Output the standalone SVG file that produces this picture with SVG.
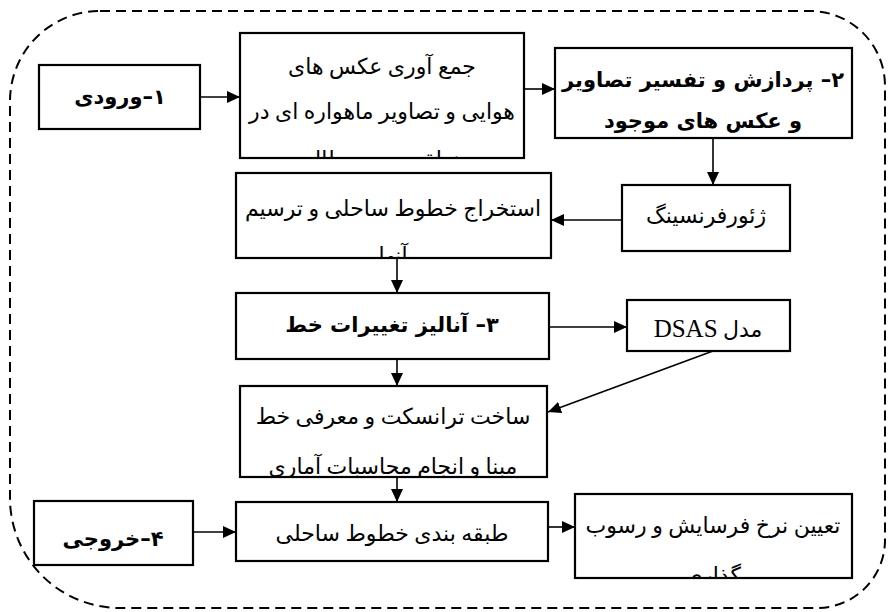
<svg xmlns="http://www.w3.org/2000/svg" width="890" height="612" viewBox="0 0 890 612">
<style>
.box{fill:#fff;stroke:#000;stroke-width:2.2}
.t{font-family:"Liberation Serif","DejaVu Sans",serif;font-size:22px;fill:#000;text-anchor:middle}
.b{font-family:"DejaVu Sans","Liberation Sans",sans-serif;font-size:21px;font-weight:bold;fill:#000;text-anchor:middle}
.c{fill:none;stroke:#000;stroke-width:1.6}
.frame{fill:none;stroke:#000;stroke-width:2;stroke-dasharray:10 6}
</style>
<defs>
<marker id="ah" markerUnits="userSpaceOnUse" markerWidth="13" markerHeight="12" refX="13" refY="6" orient="auto">
<path d="M0,0 L13,6 L0,12 Z" fill="#000"/>
</marker>
<clipPath id="c1"><rect x="241" y="34" width="282" height="123"/></clipPath>
<clipPath id="c4"><rect x="237" y="174" width="313" height="83"/></clipPath>
<clipPath id="c6"><rect x="241" y="387" width="305" height="89"/></clipPath>
<clipPath id="c9"><rect x="576" y="495" width="275" height="82"/></clipPath>
</defs>
<path class="frame" d="M100,11 H810 A75,75 0 0 1 885,86 V540 A68,68 0 0 1 817,608 H120 A110,110 0 0 1 10,498 V101 A90,90 0 0 1 100,11 Z"/>
<g id="connectors">
<line class="c" x1="200" y1="97" x2="240" y2="97" marker-end="url(#ah)"/>
<line class="c" x1="524" y1="89" x2="555" y2="89" marker-end="url(#ah)"/>
<line class="c" x1="713" y1="138" x2="713" y2="185" marker-end="url(#ah)"/>
<line class="c" x1="622" y1="220" x2="551" y2="220" marker-end="url(#ah)"/>
<line class="c" x1="397" y1="258" x2="397" y2="293" marker-end="url(#ah)"/>
<line class="c" x1="549" y1="327" x2="627" y2="327" marker-end="url(#ah)"/>
<line class="c" x1="397" y1="359" x2="397" y2="386" marker-end="url(#ah)"/>
<line class="c" x1="713" y1="351" x2="548" y2="412" marker-end="url(#ah)"/>
<line class="c" x1="397" y1="477" x2="397" y2="502" marker-end="url(#ah)"/>
<line class="c" x1="193" y1="532" x2="236" y2="532" marker-end="url(#ah)"/>
<line class="c" x1="548" y1="527" x2="575" y2="527" marker-end="url(#ah)"/>
</g>
<g id="input">
<rect class="box" x="39" y="65" width="161" height="64"/>
<text class="b" x="120" y="104" direction="rtl">۱–ورودی</text>
</g>
<g id="collect">
<rect class="box" x="240" y="33" width="284" height="125"/>
<g clip-path="url(#c1)">
<text class="t" x="382" y="74" direction="rtl">جمع آوری عکس های</text>
<text class="t" x="382" y="119" direction="rtl">هوایی و تصاویر ماهواره ای در</text>
<text class="t" x="382" y="167" direction="rtl">منطقه مورد مطالعه</text>
</g>
</g>
<g id="process">
<rect class="box" x="555" y="48" width="297" height="90"/>
<text class="b" x="703" y="87" direction="rtl">۲– پردازش و تفسیر تصاویر</text>
<text class="b" x="703" y="128" direction="rtl">و عکس های موجود</text>
</g>
<g id="georef">
<rect class="box" x="622" y="185" width="168" height="66"/>
<text class="t" x="706" y="223" direction="rtl">ژئورفرنسینگ</text>
</g>
<g id="extract">
<rect class="box" x="236" y="173" width="315" height="85"/>
<g clip-path="url(#c4)">
<text class="t" x="393" y="216" direction="rtl">استخراج خطوط ساحلی و ترسیم</text>
<text class="t" x="393" y="263" direction="rtl">آنها</text>
</g>
</g>
<g id="analysis">
<rect class="box" x="236" y="293" width="313" height="66"/>
<text class="b" x="392" y="332" direction="rtl">۳– آنالیز تغییرات خط</text>
</g>
<g id="dsas">
<rect class="box" x="627" y="300" width="163" height="51"/>
<text class="t" x="708" y="337" direction="rtl"><tspan>مدل</tspan> <tspan font-size="25">DSAS</tspan></text>
</g>
<g id="transect">
<rect class="box" x="240" y="386" width="307" height="91"/>
<g clip-path="url(#c6)">
<text class="t" x="393" y="424" direction="rtl">ساخت ترانسکت و معرفی خط</text>
<text class="t" x="393" y="474" direction="rtl">مبنا و انجام محاسبات آماری</text>
</g>
</g>
<g id="output">
<rect class="box" x="34" y="501" width="159" height="64"/>
<text class="b" x="113" y="546" direction="rtl">۴–خروجی</text>
</g>
<g id="classify">
<rect class="box" x="236" y="502" width="312" height="59"/>
<text class="t" x="392" y="541" direction="rtl">طبقه بندی خطوط ساحلی</text>
</g>
<g id="rate">
<rect class="box" x="575" y="494" width="277" height="84"/>
<g clip-path="url(#c9)">
<text class="t" x="713" y="533" direction="rtl">تعیین نرخ فرسایش و رسوب</text>
<text class="t" x="713" y="583" direction="rtl">گذاری</text>
</g>
</g>
</svg>
